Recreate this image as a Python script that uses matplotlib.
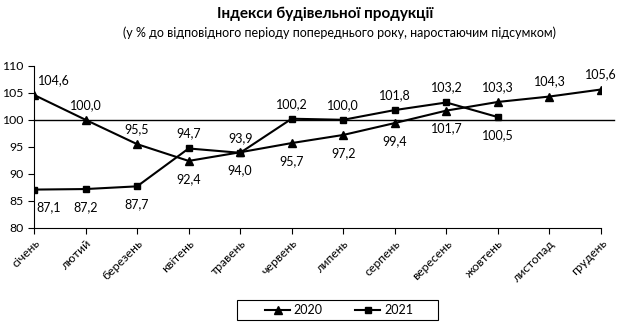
import numpy as np
import matplotlib.pyplot as plt
from matplotlib.patches import Rectangle

plt.rcParams['font.family'] = ['Lato', 'DejaVu Sans']

# Monthly construction output indices, % of same period of previous year (cumulative)
months = ['січень', 'лютий', 'березень', 'квітень', 'травень', 'червень',
          'липень', 'серпень', 'вересень', 'жовтень', 'листопад', 'грудень']
idx_2020 = [104.6, 100.0, 95.5, 92.4, 94.0, 95.7, 97.2, 99.4, 101.7, 103.3, 104.3, 105.6]
idx_2021 = [87.1, 87.2, 87.7, 94.7, 93.9, 100.2, 100.0, 101.8, 103.2, 100.5]

# label placement: +1 above the point, -1 below
pos_2020 = [1, 1, 1, -1, -1, -1, -1, -1, -1, 1, 1, 1]
pos_2021 = [-1, -1, -1, 1, 1, 1, 1, 1, 1, -1]

fig = plt.figure(figsize=(6.34, 3.36), dpi=100)
ax = fig.add_axes([34 / 634, 1 - 228 / 336, (601 - 34) / 634, (228 - 65.7) / 336])

x20 = np.arange(len(idx_2020))
x21 = np.arange(len(idx_2021))
ax.plot(x20, idx_2020, color='black', lw=1.5, marker='^', ms=6, label='2020', zorder=3)
ax.plot(x21, idx_2021, color='black', lw=1.5, marker='s', ms=5, label='2021', zorder=3)

# reference line at 100, running a bit past the last month
ax.plot([0, 11.25], [100, 100], color='black', lw=1.0, clip_on=False, zorder=2)

def add_labels(xs, vals, where, first_shift):
    for i, (x, v, p) in enumerate(zip(xs, vals, where)):
        dx = first_shift if i == 0 else 0
        dy = 15 if p > 0 else -18
        ax.annotate(f'{v:.1f}'.replace('.', ','), (x, v), xytext=(dx, dy),
                    textcoords='offset pixels', ha='center', va='center',
                    fontsize=9, clip_on=False)

add_labels(x20, idx_2020, pos_2020, 20)
add_labels(x21, idx_2021, pos_2021, 15)

ax.set_xlim(0, 11)
ax.set_ylim(80, 110)
ax.set_yticks(np.arange(80, 111, 5))
ax.set_xticks(x20)
ax.set_xticklabels(months, rotation=45, ha='right', va='top', rotation_mode='anchor')
ax.tick_params(axis='both', labelsize=8.8, length=4, width=0.8, direction='out')
ax.tick_params(axis='x', pad=3)
ax.spines['top'].set_visible(False)
ax.spines['right'].set_visible(False)
for s in ('left', 'bottom'):
    ax.spines[s].set_linewidth(0.8)

fig.text(0.513, 1 - 14 / 336, 'Індекси будівельної продукції', ha='center', va='center',
         fontsize=11, fontweight='bold')
fig.text(0.536, 1 - 33 / 336, '(у % до відповідного періоду попереднього року, наростаючим підсумком)',
         ha='center', va='center', fontsize=9)

# legend entries without their own frame, boxed by a separate rectangle
leg = fig.legend(loc='center', bbox_to_anchor=(339 / 634, 1 - 310 / 336), ncol=2,
                 fontsize=9, frameon=False, handlelength=2.0, columnspacing=2.6,
                 handletextpad=0.3, markerscale=0.85)
fig.patches.append(Rectangle((237 / 634, 1 - 320 / 336), 201 / 634, 20 / 336,
                             transform=fig.transFigure, fill=False,
                             edgecolor='black', linewidth=0.8))

fig.savefig('out.png', dpi=100)
